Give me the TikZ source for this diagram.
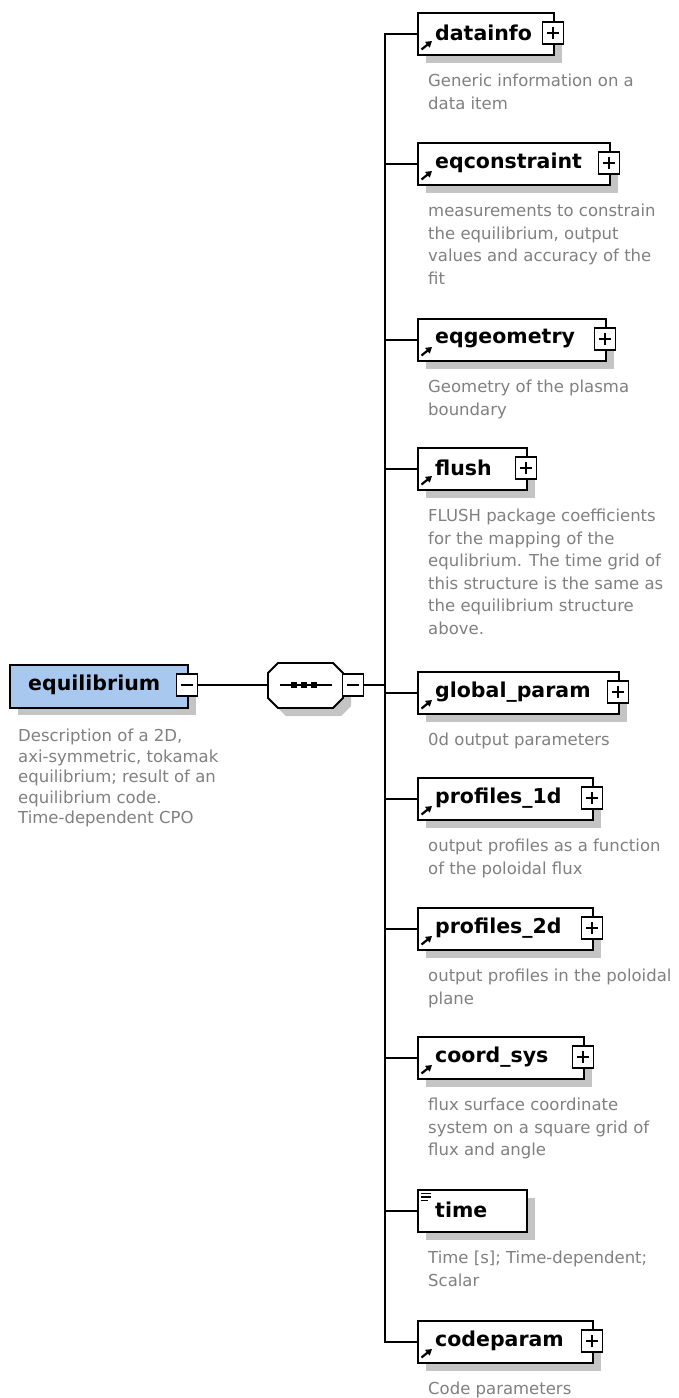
\documentclass[tikz,border=0pt]{standalone}
\usepackage{fontspec}
\setmainfont{DejaVu Sans}
\usetikzlibrary{arrows.meta}
\definecolor{descgray}{HTML}{808080}
\definecolor{shadowgray}{HTML}{C4C4C4}
\definecolor{eqblue}{HTML}{A8C8F0}
\tikzset{
  elbox/.style={draw=black, line width=1.8pt, fill=white, inner sep=0pt, minimum height=42pt, anchor=north west},
  lbl/.style={font=\fontsize{20.5}{22}\selectfont\bfseries, inner sep=0pt, anchor=west},
  dsc/.style={font=\fontsize{16.5}{22.5}\selectfont, text=descgray, inner sep=0pt, anchor=north west, align=left},
  pmbox/.style={draw=black, line width=1.4pt, fill=white, minimum width=21pt, minimum height=22pt, inner sep=0pt},
  plusbox/.style={pmbox, path picture={
      \draw[line width=1.8pt] ([xshift=-6pt]path picture bounding box.center) -- ([xshift=6pt]path picture bounding box.center);
      \draw[line width=1.8pt] ([yshift=-6pt]path picture bounding box.center) -- ([yshift=6pt]path picture bounding box.center);}},
  minusbox/.style={pmbox, path picture={
      \draw[line width=2pt] ([xshift=-6pt]path picture bounding box.center) -- ([xshift=6pt]path picture bounding box.center);}},
  conn/.style={line width=2pt},
  refarrow/.style={line width=2.2pt, -{Triangle[length=6pt,width=7pt]}},
}
% #1 name, #2 top, #3 right, #4 label, #5 description, #6 plus box (1/0)
\newcommand{\xsdelem}[6]{%
  \fill[shadowgray] (426,#2+9) rectangle (#3+9,#2+51);
  \node[elbox, minimum width={#3-417}] (#1) at (417,#2) {};
  \node[lbl] (#1-l) at (435,#2+21) {#4};
  \ifnum#6=1
    \node[plusbox] (#1-p) at (#3,#2+21) {};
    \draw[refarrow] (421.5,#2+37.5) -- (432,#2+29);
  \else
    \draw[line width=1.3pt] (421,#2+4.5) -- (431,#2+4.5) (421,#2+8) -- (431,#2+8) (421,#2+11.5) -- (428,#2+11.5);
  \fi
  \node[dsc] (#1-d) at (428,#2+62) {#5};
  \draw[conn] (hub) |- (#1.west);
}
\begin{document}
\begin{tikzpicture}[x=1pt,y=-1pt]
\fill[white] (0,0) rectangle (678,1398);
\useasboundingbox (0,0) rectangle (678,1398);

% root element
\fill[shadowgray] (18,673) rectangle (196,715);
\node[elbox, fill=eqblue, minimum width=178pt, minimum height=43pt] (eq) at (9,664) {};
\node[lbl] (eq-l) at (28,685) {equilibrium};
\node[minusbox] (eq-m) at (187,685) {};
\node[dsc, font=\fontsize{16.5}{20.5}\selectfont] (eq-d) at (18,729) {Description of a 2D,\\axi-symmetric, tokamak\\equilibrium; result of an\\equilibrium code.\\Time-dependent CPO};

% sequence compositor
\fill[shadowgray] (286,671) -- (341,671) -- (351,681) -- (351,706) -- (341,716) -- (286,716) -- (276,706) -- (276,681) -- cycle;
\draw[line width=1.8pt, fill=white] (278,663) -- (333,663) -- (343,673) -- (343,698) -- (333,708) -- (278,708) -- (268,698) -- (268,673) -- cycle;
\node[minimum width=75pt, minimum height=45pt, inner sep=0pt] (seq) at (305.5,685) {};
\draw[line width=1.6pt] (280,685) -- (332,685);
\foreach \dx in {294,304,314} \fill (\dx-3.2,681.8) rectangle (\dx+3.2,688.2);
\node[minusbox] (seq-m) at (353,685) {};
\coordinate (hub) at (385,685);

\draw[conn] (eq-m.east) -- (seq.west);
\draw[conn] (seq-m.east) -- (hub);

\xsdelem{datainfo}{12}{553}{datainfo}{Generic information on a\\data item}{1}
\xsdelem{eqconstraint}{142}{609}{eqconstraint}{measurements to constrain\\the equilibrium, output\\values and accuracy of the\\fit}{1}
\xsdelem{eqgeometry}{318}{605}{eqgeometry}{Geometry of the plasma\\boundary}{1}
\xsdelem{flush}{447}{526}{flush}{FLUSH package coefficients\\for the mapping of the\\equlibrium. The time grid of\\this structure is the same as\\the equilibrium structure\\above.}{1}
\xsdelem{globalparam}{671}{618}{global\_param}{0d output parameters}{1}
\xsdelem{profilesA}{777}{592}{profiles\_1d}{output profiles as a function\\of the poloidal flux}{1}
\xsdelem{profilesB}{907}{592}{profiles\_2d}{output profiles in the poloidal\\plane}{1}
\xsdelem{coordsys}{1036}{583}{coord\_sys}{flux surface coordinate\\system on a square grid of\\flux and angle}{1}
\xsdelem{time}{1189}{526}{time}{Time [s]; Time-dependent;\\Scalar}{0}
\xsdelem{codeparam}{1320}{592}{codeparam}{Code parameters}{1}
\end{tikzpicture}
\end{document}
